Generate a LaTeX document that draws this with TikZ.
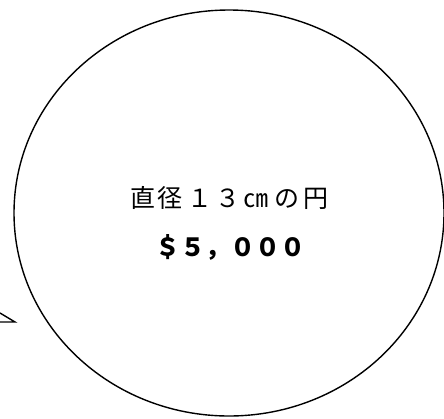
\documentclass[tikz,border=0pt]{standalone}
\usepackage{fontspec}
\newfontfamily\jp{Noto Sans CJK JP}
\usetikzlibrary{shapes.geometric}
\newcommand\cjkcell[2]{\makebox[#1pt][c]{#2}}
\begin{document}
\begin{tikzpicture}[x=1pt,y=-1pt,
  outline/.style={draw=black, line width=1.4pt},
  label/.style={inner sep=0pt, anchor=center, text=black}]
\useasboundingbox (0,0) rectangle (444,418);
\fill[white] (0,0) rectangle (444,418);
\node[ellipse, outline, minimum width=430pt, minimum height=406pt, inner sep=0pt] (bubble) at (229,213) {};
\node[label, font=\jp\fontsize{25pt}{25pt}\selectfont] (size) at (230,198)
  {\cjkcell{25}{直}\cjkcell{29.5}{径}\cjkcell{30}{１}\cjkcell{26.5}{３}\cjkcell{30.5}{㎝}\cjkcell{31}{の}\cjkcell{27.5}{円}};
\node[label, font=\jp\bfseries\fontsize{25pt}{25pt}\selectfont] (price) at (230,247) {＄５，０００};
\coordinate (tailA) at (0,313);
\coordinate (tailTip) at (15,322);
\coordinate (tailB) at (0,322);
\draw[outline, line join=miter] (tailA) -- (tailTip) -- (tailB);
\end{tikzpicture}
\end{document}
